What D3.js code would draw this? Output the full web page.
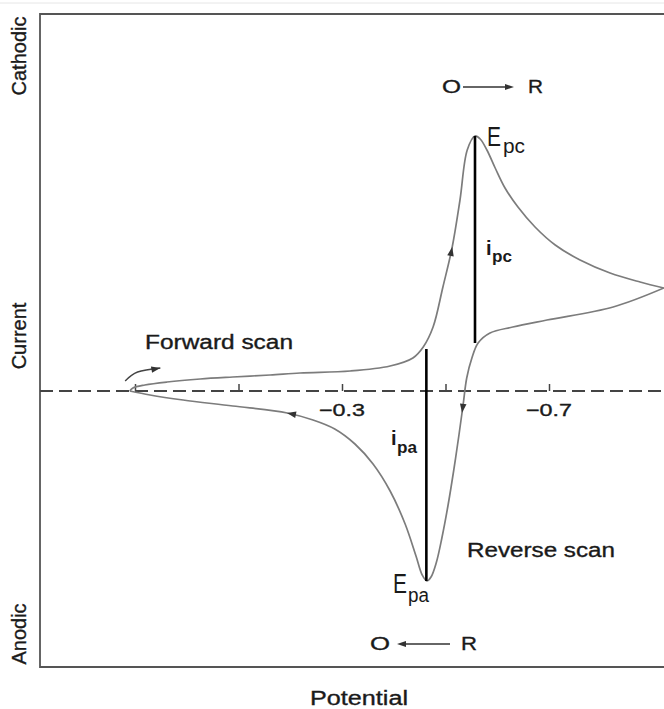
<!DOCTYPE html>
<html>
<head>
<meta charset="utf-8">
<script src="https://cdn.jsdelivr.net/npm/d3@7"></script>
<style>
  html, body { margin: 0; padding: 0; background: #fff; }
  svg { display: block; }
  text { font-family: "Liberation Sans", Arial, Helvetica, sans-serif; fill: #1a1a1a; }
  text.heavy { stroke: #1a1a1a; stroke-width: 0.35px; }
</style>
</head>
<body>
<svg id="chart" width="664" height="709"></svg>
<script>
// ---------- data (potential in V, current in arbitrary units; cathodic positive) ----------
const forwardPotential = [0.110, 0.104, 0.081, 0.038, -0.026, -0.089, -0.161, -0.219, -0.316, -0.393,
  -0.437, -0.457, -0.476, -0.495, -0.513, -0.528, -0.542, -0.557, -0.567, -0.580, -0.596, -0.615,
  -0.640, -0.673, -0.712, -0.760, -0.818, -0.876, -0.922];
const forwardCurrent = [0, 0.3, 0.6, 0.9, 1.2, 1.4, 1.6, 1.8, 2.0, 2.5,
  3.3, 4.4, 6.4, 10.4, 14.4, 19.1, 24.1, 25.5, 25.2, 24.1, 22.3, 20.3,
  18.4, 16.4, 14.6, 13.1, 11.8, 10.9, 10.3];

const reversePotential = [-0.922, -0.824, -0.696, -0.630, -0.586, -0.563, -0.551, -0.541, -0.534,
  -0.526, -0.516, -0.505, -0.493, -0.482, -0.472, -0.464, -0.455, -0.443, -0.422, -0.393, -0.360,
  -0.325, -0.286, -0.244, -0.194, -0.089, 0.007, 0.071, 0.110];
const reverseCurrent = [10.3, 8.4, 7.1, 6.4, 5.8, 4.8, 3.3, 1.3, -1.4,
  -4.4, -7.9, -11.4, -14.7, -17.2, -18.6, -19.0, -18.4, -16.5, -13.3, -10.0, -7.3,
  -5.3, -3.8, -2.9, -2.2, -1.5, -0.9, -0.4, 0];

// peak markers
const peakLabels = ["pc", "pa"];
const peakPotential = [-0.557, -0.463];
const peakCurrentTop = [25.5, 4.2];
const peakCurrentBottom = [4.8, -19.0];

// axis ticks
const tickValues = [0.1, -0.1, -0.3, -0.5, -0.7];
const tickLabels = ["", "", "\u22120.3", "", "\u22120.7"];

// direction arrows on the curve (branch, potential, current)
const arrowBranch = ["forward", "reverse", "reverse"];
const arrowPotential = [-0.513, -0.532, -0.194];
const arrowCurrent = [14.4, -2.2, -2.2];

// small "scan start" arrow
const scanArrowPotential = [0.119, 0.095, 0.051];
const scanArrowCurrent = [1.0, 1.9, 2.3];

// ---------- layout ----------
const svg = d3.select("#chart");
const frame = { left: 40, top: 14, right: 664, bottom: 667 };

const x = d3.scaleLinear().domain([0.1, -0.7]).range([135, 549]);
const y = d3.scaleLinear().domain([0, 25.5]).range([391, 136]);

svg.append("defs").append("clipPath").attr("id", "plotclip")
  .append("rect").attr("x", frame.left).attr("y", frame.top)
  .attr("width", frame.right - frame.left).attr("height", frame.bottom - frame.top);

// faint image border at top
svg.append("line").attr("x1", 0).attr("x2", 664).attr("y1", 3).attr("y2", 3)
  .attr("stroke", "#e6e6e6").attr("stroke-width", 1);

// frame (left, top, bottom)
svg.append("path")
  .attr("d", `M${frame.right},${frame.top} L${frame.left},${frame.top} L${frame.left},${frame.bottom} L${frame.right},${frame.bottom}`)
  .attr("fill", "none").attr("stroke", "#555").attr("stroke-width", 1.8);

// dashed zero line
svg.append("line")
  .attr("x1", frame.left).attr("x2", frame.right)
  .attr("y1", y(0)).attr("y2", y(0))
  .attr("stroke", "#444").attr("stroke-width", 1.8)
  .attr("stroke-dasharray", "13,6");

// ticks (upwards) via d3 axis
const axis = d3.axisTop(x).tickValues(tickValues).tickSize(7).tickFormat("");
const gAxis = svg.append("g").attr("transform", `translate(0,${y(0)})`).call(axis);
gAxis.select(".domain").remove();
gAxis.selectAll(".tick line").attr("stroke", "#444").attr("stroke-width", 1.5);

// tick labels below line
svg.append("g").selectAll("text")
  .data(tickValues.map((v, i) => ({ v, label: tickLabels[i] })).filter(d => d.label))
  .join("text")
  .attr("class", "heavy")
  .attr("x", d => x(d.v) - 23)
  .attr("y", y(0) + 25)
  .attr("font-size", 17)
  .attr("textLength", 46).attr("lengthAdjust", "spacingAndGlyphs")
  .text(d => d.label);

// curves
const line = d3.line().x(d => x(d[0])).y(d => y(d[1])).curve(d3.curveCatmullRom.alpha(0.5));
const plot = svg.append("g").attr("clip-path", "url(#plotclip)");
const fwdData = forwardPotential.map((e, i) => [e, forwardCurrent[i]]);
const revData = reversePotential.map((e, i) => [e, reverseCurrent[i]]);
const paths = {};
paths.forward = plot.append("path").datum(fwdData).attr("d", line)
  .attr("fill", "none").attr("stroke", "#7c7c7c").attr("stroke-width", 1.7);
paths.reverse = plot.append("path").datum(revData).attr("d", line)
  .attr("fill", "none").attr("stroke", "#7c7c7c").attr("stroke-width", 1.7);

// peak current lines
svg.append("g").selectAll("line")
  .data(peakPotential.map((e, i) => ({ e, t: peakCurrentTop[i], b: peakCurrentBottom[i] })))
  .join("line")
  .attr("x1", d => x(d.e)).attr("x2", d => x(d.e))
  .attr("y1", d => y(d.t)).attr("y2", d => y(d.b))
  .attr("stroke", "#000").attr("stroke-width", 2.6);

// arrowheads
function head(g, px, py, ang, len = 9, hw = 3.3) {
  g.append("path")
    .attr("d", `M0,0 L${-len},${-hw} L${-len},${hw} Z`)
    .attr("transform", `translate(${px},${py}) rotate(${ang * 180 / Math.PI})`)
    .attr("fill", "#333");
}
const gArrows = svg.append("g");
arrowBranch.forEach((b, i) => {
  const node = paths[b].node();
  const total = node.getTotalLength();
  const tx = x(arrowPotential[i]), ty = y(arrowCurrent[i]);
  let best = 0, bd = Infinity;
  for (let l = 0; l <= total; l += 0.5) {
    const p = node.getPointAtLength(l);
    const dd = (p.x - tx) ** 2 + (p.y - ty) ** 2;
    if (dd < bd) { bd = dd; best = l; }
  }
  const p0 = node.getPointAtLength(Math.max(0, best - 3));
  const p1 = node.getPointAtLength(Math.min(total, best + 3));
  const pm = node.getPointAtLength(best);
  head(gArrows, pm.x, pm.y, Math.atan2(p1.y - p0.y, p1.x - p0.x));
});

// scan start curved arrow
const scanLine = d3.line().x(d => x(d[0])).y(d => y(d[1])).curve(d3.curveNatural);
const scanPts = scanArrowPotential.map((e, i) => [e, scanArrowCurrent[i]]);
svg.append("path").datum(scanPts).attr("d", scanLine)
  .attr("fill", "none").attr("stroke", "#444").attr("stroke-width", 1.4);
{
  const a = scanPts[scanPts.length - 2], b = scanPts[scanPts.length - 1];
  head(svg, x(b[0]), y(b[1]), Math.atan2(y(b[1]) - y(a[1]), x(b[0]) - x(a[0])), 9, 3.2);
}

// ---------- text ----------
function txt(s, px, py, size, len, opts = {}) {
  const t = svg.append("text").attr("x", px).attr("y", py).attr("font-size", size).text(s);
  if (len) t.attr("textLength", len).attr("lengthAdjust", "spacingAndGlyphs");
  Object.entries(opts).forEach(([k, v]) => t.attr(k, v));
  return t;
}
// rotated axis labels
[["Cathodic", 56], ["Current", 336], ["Anodic", 634]].forEach(([s, cy]) => {
  svg.append("text").attr("class", "heavy")
    .attr("transform", `translate(26,${cy}) rotate(-90)`)
    .attr("text-anchor", "middle").attr("font-size", 20).text(s);
});
const heavy = { class: "heavy" };
txt("Potential", 310, 705, 20, 98, heavy);
txt("Forward scan", 145, 349, 19.5, 148, heavy);
txt("Reverse scan", 467, 557, 20, 148, heavy);

// O -> R (top)
txt("O", 442, 93, 19, 19, heavy);
txt("R", 528, 93, 19, 15, heavy);
svg.append("line").attr("x1", 463).attr("x2", 507).attr("y1", 87).attr("y2", 87)
  .attr("stroke", "#333").attr("stroke-width", 1.4);
head(svg, 514, 87, 0, 9, 3);
// O <- R (bottom)
txt("O", 370, 650, 19, 20, heavy);
txt("R", 461, 650, 19, 16, heavy);
svg.append("line").attr("x1", 404).attr("x2", 450).attr("y1", 644).attr("y2", 644)
  .attr("stroke", "#333").attr("stroke-width", 1.4);
head(svg, 397, 644, Math.PI, 9, 3);

// peak annotations
const lightFont = { "font-family": "'Open Sans', 'Noto Sans', sans-serif", "font-weight": 300, fill: "#555" };
txt("E", 487, 146, 27, 14, lightFont);
txt("pc", 503, 153, 20, 22, lightFont);
txt("E", 393, 593, 27, 14, lightFont);
txt("pa", 408, 602, 20, 21, lightFont);

const boldFont = { "font-family": "'Open Sans', 'Noto Sans', sans-serif", "font-weight": 700, fill: "#111" };
txt("i", 486, 255, 20, null, boldFont);
txt("pc", 492, 262, 17, 20, boldFont);
txt("i", 391, 445, 20, null, boldFont);
txt("pa", 397, 453, 17, 20, boldFont);
</script>
</body>
</html>
